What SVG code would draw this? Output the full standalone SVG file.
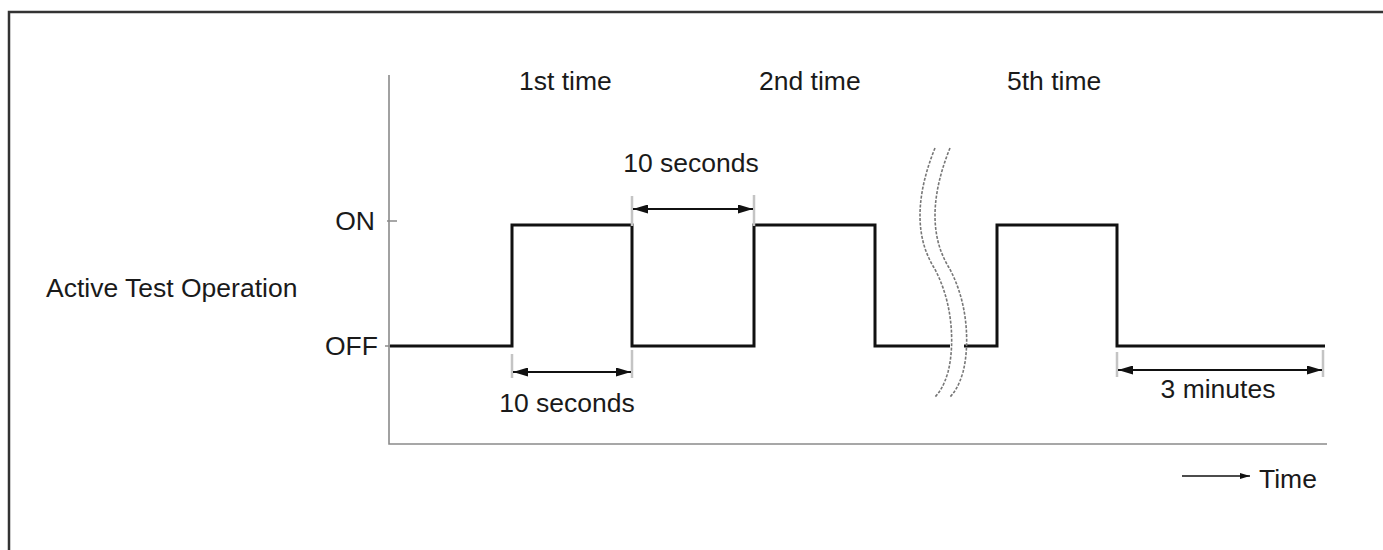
<svg xmlns="http://www.w3.org/2000/svg" width="1383" height="550" viewBox="0 0 1383 550">
  <style>
    .lbl { font-family: "Liberation Sans", Arial, sans-serif; font-size: 26.5px; fill: #1a1a1a; }
    .axis { stroke: #8a8a8a; stroke-width: 1.6; fill: none; }
    .wave { stroke: #111; stroke-width: 3; fill: none; stroke-linejoin: miter; }
    .ext { stroke: #c4c4c4; stroke-width: 2.5; }
    .dim { stroke: #111; stroke-width: 2; marker-start: url(#headL); marker-end: url(#headR); }
    .brk { stroke: #777; stroke-width: 1.6; fill: none; stroke-dasharray: 3 1.5; }
  </style>
  <defs>
    <marker id="headR" viewBox="0 0 15 9" refX="15" refY="4.5" markerWidth="15" markerHeight="9" markerUnits="userSpaceOnUse" orient="auto">
      <path d="M0,0 L15,4.5 L0,9 Z" fill="#111"/>
    </marker>
    <marker id="headL" viewBox="0 0 15 9" refX="0" refY="4.5" markerWidth="15" markerHeight="9" markerUnits="userSpaceOnUse" orient="auto">
      <path d="M15,0 L0,4.5 L15,9 Z" fill="#111"/>
    </marker>
    <marker id="headS" viewBox="0 0 10 6" refX="10" refY="3" markerWidth="10" markerHeight="6" markerUnits="userSpaceOnUse" orient="auto">
      <path d="M0,0 L10,3 L0,6 Z" fill="#111"/>
    </marker>
  </defs>

  <rect width="1383" height="550" fill="#fff"/>

  <!-- frame -->
  <g id="frame">
    <path d="M9,550 V12 H1383" fill="none" stroke="#333" stroke-width="2.5"/>
  </g>

  <!-- axes and level ticks -->
  <g id="axes">
    <path class="axis" d="M389,75 V444 H1327"/>
    <path class="axis" d="M387,221 H397 M385,346 H395"/>
    <text class="lbl" x="375" y="230" text-anchor="end">ON</text>
    <text class="lbl" x="378" y="355" text-anchor="end">OFF</text>
    <text class="lbl" x="46" y="297">Active Test Operation</text>
  </g>

  <!-- pulse labels -->
  <g id="pulse-labels">
    <text class="lbl" x="519" y="90">1st time</text>
    <text class="lbl" x="759" y="90">2nd time</text>
    <text class="lbl" x="1007" y="90">5th time</text>
  </g>

  <!-- waveform -->
  <g id="waveform">
    <path class="wave" d="M390,346 H512 V225 H632 V346 H754 V225 H875 V346 H950"/>
    <path class="wave" d="M964,346 H997 V225 H1117 V346 H1325"/>
  </g>

  <!-- time break -->
  <g id="break">
    <path class="brk" d="M935,148 C918,190 913,232 933,266 C953,300 955,345 948,372 C944,386 939,393 935,397"/>
    <path class="brk" d="M950,148 C933,190 928,232 948,266 C968,300 970,345 963,372 C959,386 954,393 950,397"/>
  </g>

  <!-- dimension connectors -->
  <g id="connectors">
    <path class="ext" d="M512,354 V378 M632,350 V378"/>
    <line class="dim" x1="513" y1="372" x2="631" y2="372"/>
    <path class="ext" d="M632,196 V226 M754,195 V226"/>
    <line class="dim" x1="633" y1="209" x2="753" y2="209"/>
    <path class="ext" d="M1117,352 V377 M1323,350 V377"/>
    <line class="dim" x1="1118" y1="370" x2="1322" y2="370"/>
    <line x1="1182" y1="476" x2="1250" y2="476" stroke="#111" stroke-width="1.5" marker-end="url(#headS)"/>
  </g>

  <!-- dimension labels -->
  <g id="dim-labels">
    <text class="lbl" x="567" y="412" text-anchor="middle">10 seconds</text>
    <text class="lbl" x="691" y="172" text-anchor="middle">10 seconds</text>
    <text class="lbl" x="1218" y="398" text-anchor="middle">3 minutes</text>
    <text class="lbl" x="1259" y="488">Time</text>
  </g>
</svg>
